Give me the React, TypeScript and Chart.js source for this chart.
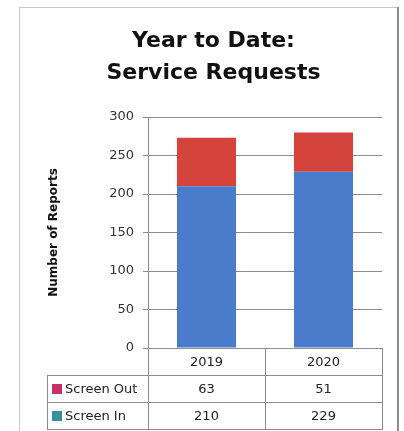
import React, { useEffect, useRef } from 'react';
import { Chart, registerables } from 'chart.js';

Chart.register(...registerables);

const categories = ['2019', '2020'];
const screenIn = [210, 229];
const screenOut = [63, 51];
const seriesNames = ['Screen Out', 'Screen In'];
const yTicks = [0, 50, 100, 150, 200, 250, 300];
const titleLines = ['Year to Date:', 'Service Requests'];
const yTitle = 'Number of Reports';

const FONT = '"DejaVu Sans", sans-serif';
const BAR_BLUE = '#4A7CCB';
const BAR_RED = '#D4443C';
const KEY_OUT = '#C8306A';
const KEY_IN = '#3A8EA2';
const LINE = '#8c8c8c';

const framePlugin = {
  id: 'frame',
  beforeDraw(chart: any) {
    const { ctx, width, height } = chart;
    ctx.save();
    ctx.fillStyle = '#ffffff';
    ctx.fillRect(0, 0, width, height);
    ctx.strokeStyle = '#c8c8c8';
    ctx.lineWidth = 1;
    ctx.strokeRect(19.5, 7.5, 378, 430);
    ctx.fillStyle = '#8a8a8a';
    ctx.fillRect(397, 7, 2, height - 7);
    ctx.restore();
  },
};

const tablePlugin = {
  id: 'dataTable',
  afterDraw(chart: any) {
    const { ctx, chartArea } = chart;
    const xs = chart.scales.x;
    const top = Math.round(chartArea.bottom);
    const bottom = Math.round(xs.bottom);
    const rowH = (bottom - top) / 3;
    const left = chartArea.left;
    const right = chartArea.right;
    const legendLeft = 47;
    const centers = categories.map((_, i) => xs.getPixelForValue(i));
    const bounds = [left, ...centers.slice(1).map((c, i) => (centers[i] + c) / 2), right];
    const px = (v: number) => Math.round(v) + 0.5;
    ctx.save();
    ctx.strokeStyle = LINE;
    ctx.lineWidth = 1;
    const hline = (y: number, x0: number, x1: number) => {
      ctx.beginPath();
      ctx.moveTo(Math.round(x0), px(y));
      ctx.lineTo(Math.round(x1) + 1, px(y));
      ctx.stroke();
    };
    const vline = (x: number, y0: number, y1: number) => {
      ctx.beginPath();
      ctx.moveTo(px(x), Math.round(y0));
      ctx.lineTo(px(x), Math.round(y1) + 1);
      ctx.stroke();
    };
    bounds.forEach((b) => vline(b, top, bottom));
    hline(top + rowH, legendLeft, right);
    hline(top + 2 * rowH, legendLeft, right);
    hline(bottom, legendLeft, right);
    vline(legendLeft, top + rowH, bottom);

    ctx.font = `13px ${FONT}`;
    ctx.fillStyle = '#222';
    ctx.textAlign = 'center';
    ctx.textBaseline = 'middle';
    categories.forEach((c, i) => ctx.fillText(c, centers[i], top + rowH / 2 + 1));

    const rows = [
      { name: seriesNames[0], values: screenOut, color: KEY_OUT },
      { name: seriesNames[1], values: screenIn, color: KEY_IN },
    ];
    rows.forEach((r, ri) => {
      const yc = top + rowH * (ri + 1.5);
      ctx.fillStyle = r.color;
      ctx.fillRect(legendLeft + 5, Math.round(yc - 5), 10, 10);
      ctx.fillStyle = '#222';
      ctx.textAlign = 'left';
      ctx.fillText(r.name, legendLeft + 18, yc + 1);
      ctx.textAlign = 'center';
      r.values.forEach((v, i) => ctx.fillText(String(v), centers[i], yc + 1));
    });
    ctx.restore();
  },
};

export default function App() {
  const ref = useRef<HTMLCanvasElement | null>(null);
  useEffect(() => {
    if (!ref.current) return;
    const chart = new Chart(ref.current, {
      type: 'bar',
      data: {
        labels: categories,
        datasets: [
          { label: seriesNames[1], data: screenIn, backgroundColor: BAR_BLUE, borderWidth: 0 },
          { label: seriesNames[0], data: screenOut, backgroundColor: BAR_RED, borderWidth: 0 },
        ],
      },
      options: {
        responsive: false,
        animation: false,
        devicePixelRatio: 1,
        layout: { padding: { left: 45, right: 22, top: 9, bottom: 2 } },
        datasets: { bar: { categoryPercentage: 1, barPercentage: 0.505 } },
        plugins: {
          legend: { display: false },
          tooltip: { enabled: false },
          title: {
            display: true,
            text: titleLines,
            color: '#111',
            font: { family: FONT, size: 22, weight: 'bold', lineHeight: 32 / 22 },
            padding: { top: 16, bottom: 28 },
          },
        },
        scales: {
          x: {
            stacked: true,
            grid: { display: false },
            border: { display: false },
            ticks: { display: false },
            afterFit(s: any) {
              s.height = 81;
            },
          },
          y: {
            stacked: true,
            min: 0,
            max: 300,
            afterBuildTicks(s: any) {
              s.ticks = yTicks.map((v) => ({ value: v }));
            },
            ticks: { font: { family: FONT, size: 13 }, color: '#333', padding: 9 },
            grid: { color: LINE, tickLength: 5, lineWidth: 1 },
            border: { display: true, color: LINE },
            title: {
              display: true,
              text: yTitle,
              color: '#111',
              font: { family: FONT, size: 12, weight: 'bold' },
              padding: { top: 2, bottom: 0 },
            },
            afterFit(s: any) {
              s.width = 103;
            },
          },
        },
      },
      plugins: [framePlugin, tablePlugin],
    } as any);
    return () => chart.destroy();
  }, []);
  return (
    <div style={{ position: 'absolute', left: 0, top: 0, width: 404, height: 431 }}>
      <canvas ref={ref} width={404} height={431} style={{ display: 'block' }} />
    </div>
  );
}
